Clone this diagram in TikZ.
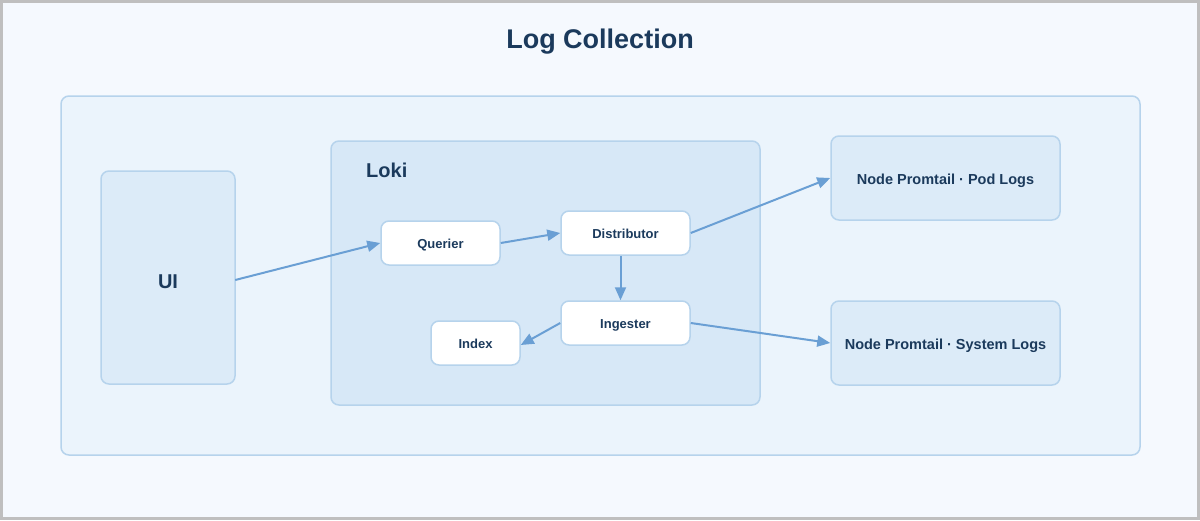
\documentclass[tikz,border=0pt]{standalone}
\usepackage{fontspec}
\setmainfont{Liberation Sans}
\usetikzlibrary{arrows.meta}
\definecolor{txt}{HTML}{1B3A5C}
\definecolor{bord}{HTML}{B6D3EC}
\definecolor{arr}{HTML}{6A9FD4}
\definecolor{pagebg}{HTML}{F5F9FE}
\definecolor{outerbg}{HTML}{EBF4FC}
\definecolor{boxbg}{HTML}{DCEBF8}
\definecolor{lokibg}{HTML}{D7E8F7}
\tikzset{
  panel/.style={draw=bord, line width=1.5pt, rounded corners=8pt},
  comp/.style={draw=bord, line width=1.5pt, rounded corners=8pt, fill=white, font=\bfseries\fontsize{13}{15}\selectfont, text=txt, text height=11.5pt, text depth=0pt},
  bigbox/.style={draw=bord, line width=1.5pt, rounded corners=8pt, fill=boxbg, font=\bfseries\fontsize{14.5}{17}\selectfont, text=txt, text height=12pt, text depth=0pt},
  flow/.style={draw=arr, line width=2pt, -{Triangle[length=13pt,width=11pt]}}
}
\begin{document}
\begin{tikzpicture}[x=1pt,y=-1pt]
\useasboundingbox (0,0) rectangle (1200,520);
\fill[pagebg] (0,0) rectangle (1200,520);
\draw[draw=black!25, line width=3pt] (1.5,1.5) rectangle (1198.5,518.5);
\node[font=\bfseries\fontsize{27}{32}\selectfont, text=txt] (title) at (600,42) {Log Collection};
% outer container
\draw[panel, fill=outerbg] (61,96) rectangle (1140,455);
% UI
\draw[panel, fill=boxbg] (101,171) rectangle (235,384);
\node[minimum width=134pt, minimum height=213pt, inner sep=0pt] (ui) at (168,277.5) {};
\node[font=\bfseries\fontsize{20}{24}\selectfont, text=txt] (uilabel) at (168,282) {UI};
% Loki
\draw[panel, fill=lokibg] (331,141) rectangle (760,405);
\node[anchor=west, font=\bfseries\fontsize{20}{24}\selectfont, text=txt, inner sep=0pt] (loki) at (366,170) {Loki};
% components
\node[comp, minimum width=119pt, minimum height=44pt, inner sep=0pt] (querier) at (440.5,243) {Querier};
\node[comp, minimum width=129pt, minimum height=44pt, inner sep=0pt] (dist) at (625.5,233) {Distributor};
\node[comp, minimum width=129pt, minimum height=44pt, inner sep=0pt] (ing) at (625.5,323) {Ingester};
\node[comp, minimum width=89pt, minimum height=44pt, inner sep=0pt] (index) at (475.5,343) {Index};
% right boxes
\node[bigbox, minimum width=229pt, minimum height=84pt, inner sep=0pt] (pod) at (945.5,178) {Node Promtail · Pod Logs};
\node[bigbox, minimum width=229pt, minimum height=84pt, inner sep=0pt] (sys) at (945.5,343) {Node Promtail · System Logs};
% connectors
\draw[flow] ([yshift=-2.5pt]ui.east) -- (querier.west);
\draw[flow] (querier.east) -- (dist.west);
\draw[flow] ([xshift=-5pt]dist.south) -- ([xshift=-5pt]ing.north);
\draw[flow] (ing.west) -- ([yshift=-2pt]index.east);
\draw[flow] (dist.east) -- (pod.west);
\draw[flow] (ing.east) -- (sys.west);
\end{tikzpicture}
\end{document}
